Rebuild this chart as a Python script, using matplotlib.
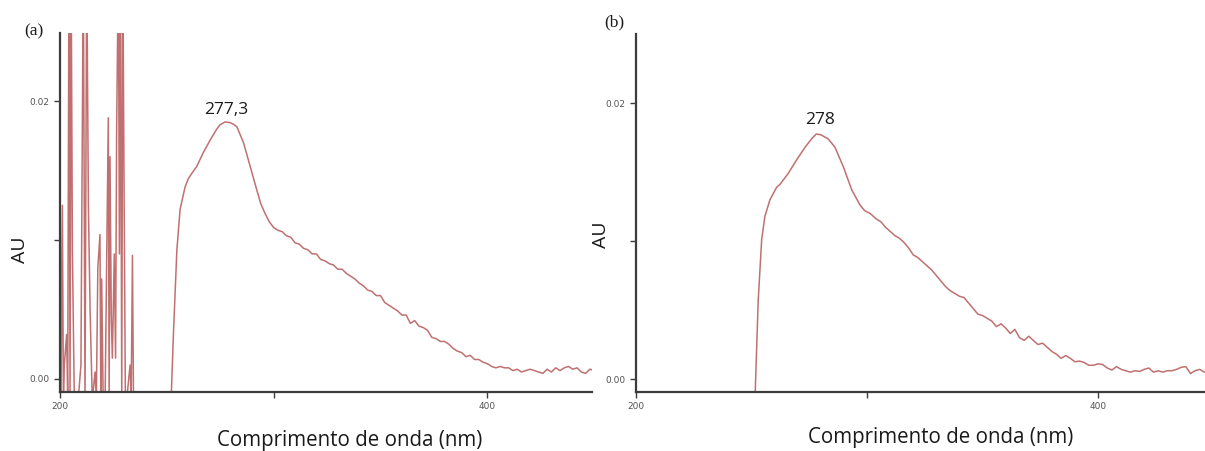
import numpy as np
import matplotlib
matplotlib.use("Agg")
import matplotlib.pyplot as plt

# ---------------- data (absorbance in mAU, wavelength in nm) ----------------
# (a) saturated / noisy region below ~235 nm
wl_a_noise = [200.0, 200.5, 201.1, 201.6, 202.0, 203.1, 203.6, 204.2, 204.7, 205.2,
              205.8, 206.7, 207.5, 208.5, 209.8, 210.9, 211.7, 212.5, 213.3, 214.1,
              215.1, 216.4, 217.0, 217.7, 218.7, 219.1, 219.5, 220.2, 221.1, 222.6,
              223.0, 223.4, 224.0, 224.5, 225.4, 226.0, 226.5, 227.3, 227.8, 228.3,
              228.9, 229.4, 230.0, 230.6, 231.2, 232.8, 233.3, 233.9, 234.4, 240.0,
              246.0]
au_a_noise = [15.9, -1.5, 12.5, -1.5, 1.0, 3.2, -1.5, 30.0, -1.5, 30.0,
              9.2, -1.5, -1.5, -1.5, 1.0, 30.0, -1.5, 30.0, 12.3, 4.8,
              -1.5, 0.5, -1.5, 8.0, 10.4, -1.5, 7.2, -1.5, -1.5, 18.8,
              -1.5, 16.0, 4.5, 1.5, 9.0, 1.5, 17.8, 30.0, 9.0, 30.0,
              -1.5, 30.0, 13.2, -1.5, -1.5, 1.0, -1.5, 8.9, -1.5, -1.5,
              -1.5]

# (a) absorption band
wl_a = [252.0, 253.1, 254.7, 256.2, 258.5, 260.0, 261.7, 264.0, 267.1, 270.3,
        273.0, 274.9, 277.3, 279.6, 281.0, 282.8, 285.9, 289.0, 292.1, 294.0,
        296, 298, 300, 302, 304, 306, 308, 310, 312, 314, 316, 318, 320, 322,
        324, 326, 328, 330, 332, 334, 336, 338, 340, 342, 344, 346, 348, 350,
        352, 354, 356, 358, 360, 362, 364, 366, 368, 370, 372, 374, 376, 378,
        380, 382, 384, 386, 388, 390, 392, 394, 396, 398, 400, 402, 404, 406,
        408, 410, 412, 414, 416, 418, 420, 422, 424, 426, 428, 430, 432, 434,
        436, 438, 440, 442, 444, 446, 448, 450]
au_a = [-1.5, 3.3, 9.3, 12.2, 13.8, 14.4, 14.8, 15.3, 16.3, 17.2,
        17.9, 18.3, 18.5, 18.45, 18.35, 18.15, 17.0, 15.3, 13.6, 12.6,
        11.9, 11.3, 10.9, 10.7, 10.6, 10.3, 10.2, 9.8, 9.7, 9.4, 9.3, 9.0, 9.0, 8.6,
        8.5, 8.3, 8.2, 7.9, 7.9, 7.6, 7.4, 7.2, 6.9, 6.7, 6.4, 6.3, 6.0, 6.0,
        5.5, 5.3, 5.1, 4.9, 4.6, 4.6, 4.0, 4.2, 3.8, 3.7, 3.5, 3.0, 2.9, 2.7,
        2.7, 2.5, 2.2, 2.0, 1.9, 1.6, 1.7, 1.4, 1.4, 1.2, 1.1, 0.9, 0.8, 0.9,
        0.8, 0.8, 0.6, 0.7, 0.5, 0.6, 0.7, 0.6, 0.5, 0.4, 0.7, 0.5, 0.8, 0.6,
        0.8, 0.9, 0.7, 0.8, 0.5, 0.4, 0.7, 0.6]

# (b) absorption band
wl_b = [251.5, 252.9, 254.4, 255.8, 258.0, 260.9, 262.3, 265.9, 269.6, 273.2,
        276.0, 278.0, 280.0, 283.2, 286.1, 289.7, 293.4, 297.0, 299.0, 301.3,
        302, 304, 306, 308, 310, 312, 314, 316, 318, 320, 322, 324, 326, 328,
        330, 332, 334, 336, 338, 340, 342, 344, 346, 348, 350, 352, 354, 356,
        358, 360, 362, 364, 366, 368, 370, 372, 374, 376, 378, 380, 382, 384,
        386, 388, 390, 392, 394, 396, 398, 400, 402, 404, 406, 408, 410, 412,
        414, 416, 418, 420, 422, 424, 426, 428, 430, 432, 434, 436, 438, 440,
        442, 444, 446, 448]
au_b = [-1.5, 5.7, 10.1, 11.8, 13.0, 13.9, 14.1, 14.9, 15.9, 16.8,
        17.4, 17.75, 17.7, 17.4, 16.8, 15.4, 13.7, 12.6, 12.2, 12.0,
        11.9, 11.6, 11.4, 11.0, 10.7, 10.4, 10.2, 9.9, 9.5, 9.0, 8.8, 8.5, 8.2, 7.9,
        7.5, 7.1, 6.7, 6.4, 6.2, 6.0, 5.9, 5.5, 5.1, 4.7, 4.6, 4.4, 4.2, 3.8,
        4.0, 3.7, 3.3, 3.6, 3.0, 2.8, 3.1, 2.8, 2.5, 2.6, 2.3, 2.0, 1.8, 1.5,
        1.7, 1.5, 1.25, 1.3, 1.2, 1.0, 1.0, 1.1, 1.05, 0.8, 0.65, 0.9, 0.7, 0.6,
        0.5, 0.6, 0.55, 0.7, 0.8, 0.5, 0.6, 0.5, 0.6, 0.6, 0.7, 0.85, 0.9, 0.4,
        0.6, 0.7, 0.5, 0.6]

peak_labels = ["277,3", "278"]
x_ticks = [200, 300, 400]
x_ticklabels = ["200", "", "400"]
y_ticks = [0.0, 0.01, 0.02]
y_ticklabels = ["0.00", "", "0.02"]

# ---------------- styling ----------------
LINE = "#c07070"
SPINE = "#3c3c3c"
SANS = ["Open Sans", "DejaVu Sans"]

fig = plt.figure(figsize=(12.05, 4.51), dpi=100)
ax_a = fig.add_axes([0.0498, 0.1308, 0.4415, 0.796])
ax_b = fig.add_axes([0.5278, 0.1308, 0.4722, 0.7938])


def style(ax, xlim, ylim, xlabel_pos, ylabel_pos):
    ax.set_xlim(*xlim)
    ax.set_ylim(*ylim)
    for s in ("top", "right"):
        ax.spines[s].set_visible(False)
    for s in ("left", "bottom"):
        ax.spines[s].set_color(SPINE)
        ax.spines[s].set_linewidth(1.6)
    ax.set_xticks(x_ticks)
    ax.set_xticklabels(x_ticklabels)
    ax.set_yticks(y_ticks)
    ax.set_yticklabels(y_ticklabels)
    ax.tick_params(axis="both", direction="out", length=4.5, width=1.0,
                   colors=SPINE, labelsize=6.5, labelcolor="#555555", pad=3)
    ax.set_xlabel("Comprimento de onda (nm)", family=SANS, fontsize=14.8,
                  color="#1a1a1a", va="center")
    ax.xaxis.set_label_coords(*xlabel_pos)
    ax.set_ylabel("AU", family=SANS, fontsize=14, color="#1a1a1a",
                  va="center")
    ax.yaxis.set_label_coords(*ylabel_pos)


# (a)
wl_full_a = np.array(wl_a_noise + wl_a)
au_full_a = np.array(au_a_noise + au_a) / 1000.0
ax_a.plot(wl_full_a, au_full_a, color=LINE, lw=1.1)
style(ax_a, (200, 449), (-0.00094, 0.0249), (0.545, -0.134), (-0.075, 0.395))
ia = int(np.argmax(au_a))
ax_a.annotate(peak_labels[0], (wl_a[ia], au_a[ia] / 1000.0), xytext=(1, 6),
              textcoords="offset points", ha="center", va="baseline",
              family=SANS, fontsize=12.5, color="#1a1a1a")

# (b)
ax_b.plot(np.array(wl_b), np.array(au_b) / 1000.0, color=LINE, lw=1.1)
style(ax_b, (200, 446.3), (-0.00094, 0.025), (0.535, -0.128), (-0.062, 0.44))
ib = int(np.argmax(au_b))
ax_b.annotate(peak_labels[1], (wl_b[ib], au_b[ib] / 1000.0), xytext=(3, 7),
              textcoords="offset points", ha="center", va="baseline",
              family=SANS, fontsize=12.5, color="#1a1a1a")

fig.text(34 / 1205, 1 - 31 / 451, "(a)", family="Liberation Serif", fontsize=12.5,
         ha="center", va="center", color="#1a1a1a")
fig.text(614 / 1205, 1 - 22 / 451, "(b)", family="Liberation Serif", fontsize=12.5,
         ha="center", va="center", color="#1a1a1a")

fig.savefig("out.png", dpi=100)
